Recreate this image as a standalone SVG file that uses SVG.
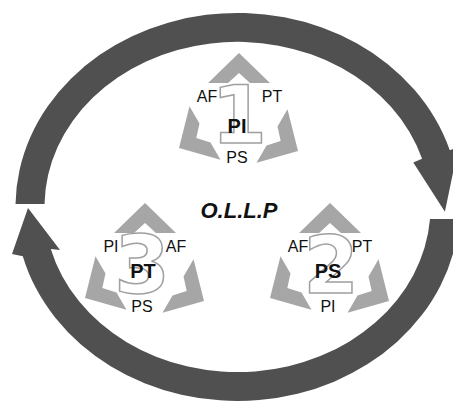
<svg xmlns="http://www.w3.org/2000/svg" width="453" height="402" viewBox="0 0 453 402">
<style>
.band{fill:#505050}
.chev{fill:#a6a6a6}
.digit{font-family:"DejaVu Sans",sans-serif;font-weight:bold;font-size:80px;fill:#ffffff;stroke:#a0a0a0;stroke-width:1.5;text-anchor:middle}
.lbl{font-family:"Liberation Sans",Arial,sans-serif;font-size:16px;fill:#111;text-anchor:middle}
.main{font-family:"Liberation Sans",Arial,sans-serif;font-size:20px;font-weight:bold;fill:#111;text-anchor:middle}
.title{font-family:"Liberation Sans",Arial,sans-serif;font-size:22px;font-weight:bold;font-style:italic;fill:#111;text-anchor:middle}
</style>
<defs>
<path id="chev" d="M0,0 L31,30 L11,30 L0,20 L-11,30 L-31,30 Z"/>
</defs>
<rect width="453" height="402" fill="#ffffff"/>
<g id="connectors">
<path class="band" d="M15.5,204 A222,194 0 0 1 449.8,150.3 L458.5,146.5 L444.9,211.7 L413.3,162.5 L422.1,158.8 A193,165 0 0 0 44.5,204 Z"/>
<path class="band" d="M459.1,219 A222,194 0 0 1 22.8,256.2 L12,254 L28,208 L60,250 L50.8,248.9 A193,165 0 0 0 430,219 Z"/>
</g>
<g id="node1">
<use href="#chev" class="chev" transform="translate(239,53)"/>
<use href="#chev" class="chev" transform="translate(179,148) rotate(-120)"/>
<use href="#chev" class="chev" transform="translate(298,151) rotate(120)"/>
<text class="digit" x="239" y="143">1</text>
<text class="lbl" x="207" y="102">AF</text>
<text class="lbl" x="272" y="102">PT</text>
<text class="main" x="237" y="133">PI</text>
<text class="lbl" x="237" y="163">PS</text>
</g>
<g id="node2">
<use href="#chev" class="chev" transform="translate(330,203)"/>
<use href="#chev" class="chev" transform="translate(270,298) rotate(-120)"/>
<use href="#chev" class="chev" transform="translate(389,301) rotate(120)"/>
<text class="digit" x="331" y="293">2</text>
<text class="lbl" x="298" y="252">AF</text>
<text class="lbl" x="362" y="252">PT</text>
<text class="main" x="328" y="278">PS</text>
<text class="lbl" x="328" y="312">PI</text>
</g>
<g id="node3">
<use href="#chev" class="chev" transform="translate(145,203)"/>
<use href="#chev" class="chev" transform="translate(85,298) rotate(-120)"/>
<use href="#chev" class="chev" transform="translate(204,301) rotate(120)"/>
<text class="digit" x="142" y="293">3</text>
<text class="lbl" x="111" y="252">PI</text>
<text class="lbl" x="176" y="252">AF</text>
<text class="main" x="143" y="278">PT</text>
<text class="lbl" x="142" y="312">PS</text>
</g>
<g id="title">
<text class="title" x="239" y="218">O.L.L.P</text>
</g>
</svg>
